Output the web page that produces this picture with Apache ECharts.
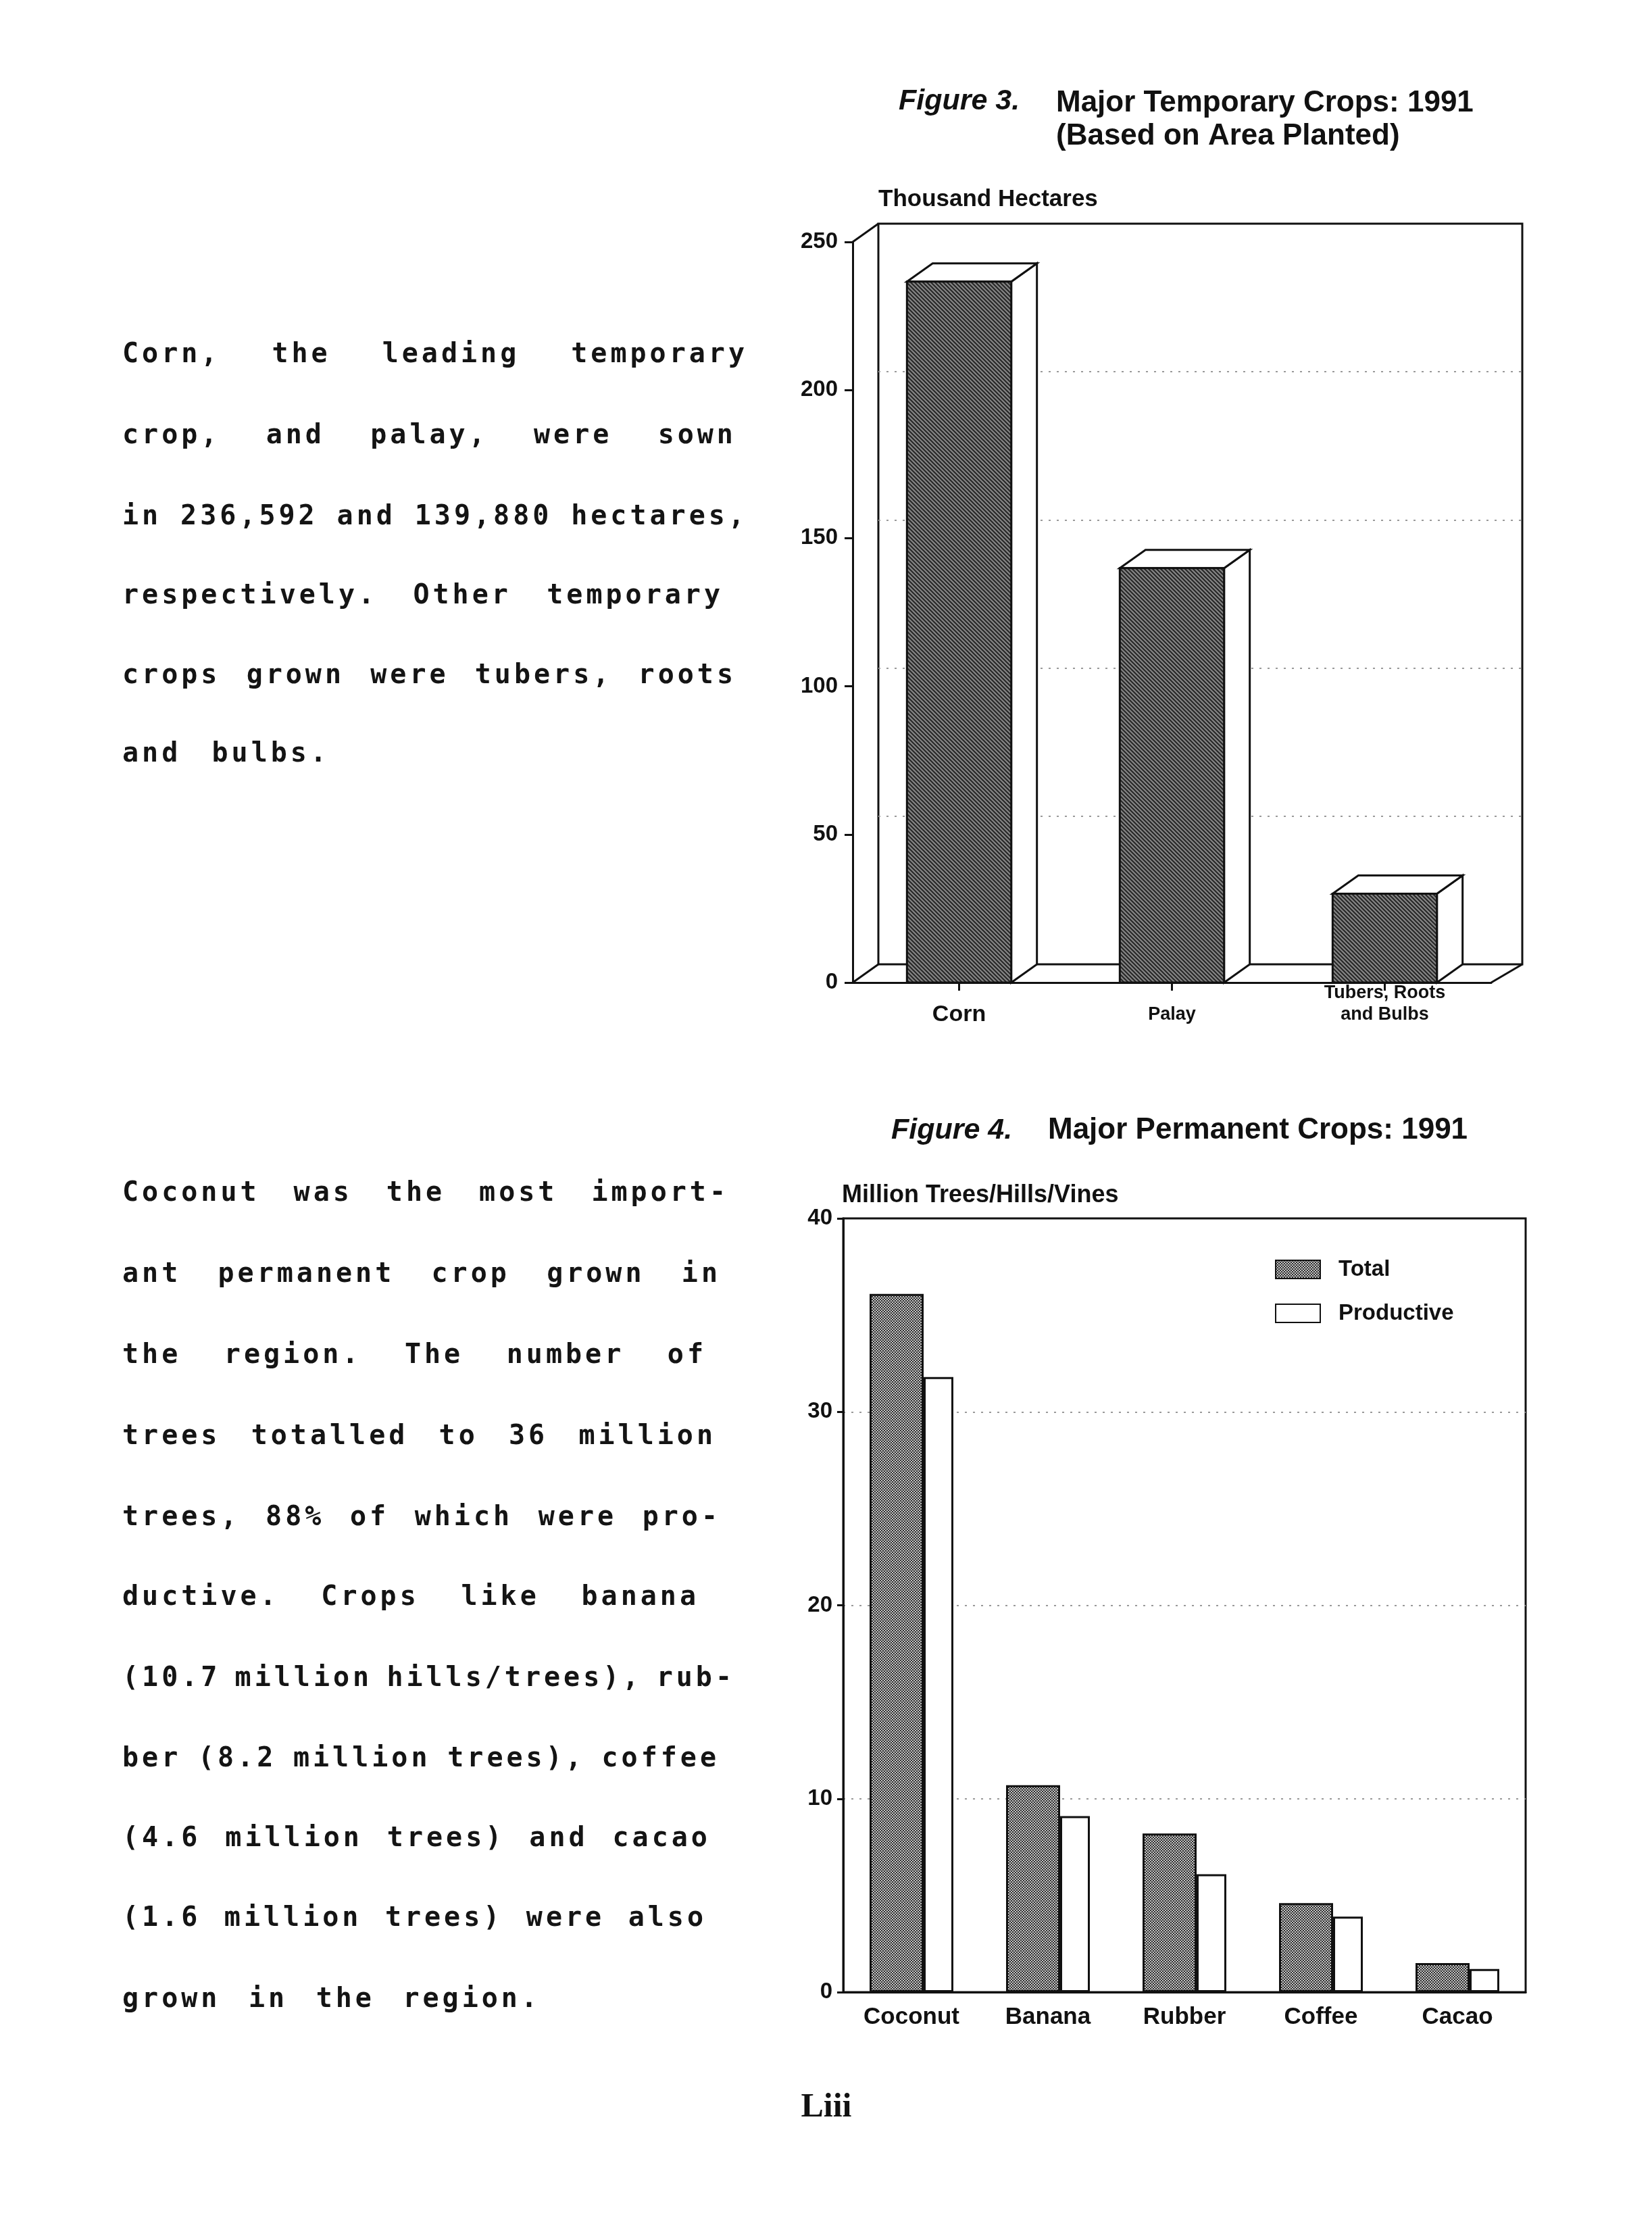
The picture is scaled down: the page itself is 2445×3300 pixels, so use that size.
<!DOCTYPE html>
<html>
<head>
<meta charset="utf-8">
<title>Major Crops: 1991</title>
<script src="https://cdn.jsdelivr.net/npm/echarts@6/dist/echarts.min.js"></script>
<style>
  html, body { margin: 0; padding: 0; background: #fff; }
  #page { position: relative; width: 2445px; height: 3300px; overflow: hidden; background: #fff; }
  #chart { position: absolute; left: 0; top: 0; width: 2445px; height: 3300px; }
  .line {
    position: absolute; display: flex; justify-content: space-between;
    font-family: 'DejaVu Sans Mono', monospace; font-size: 40px; font-weight: bold;
    color: #141414; line-height: 50px; white-space: nowrap;
  }
  .folio {
    position: absolute; left: 1173px; top: 3086px; width: 100px; text-align: center;
    font-family: 'Liberation Serif', serif; font-size: 50px; font-weight: bold; color: #111;
  }
</style>
</head>
<body>
<div id="page">
  <div id="chart"></div>
  <div class="folio">Liii</div>
</div>
<script>
  // Figure 3 - thousand hectares
  var fig3Cats = ['Corn', 'Palay', 'Tubers, Roots\nand Bulbs']
  var fig3Area = [236.6, 139.9, 30]
  var fig3Max = 250
  var fig3Step = 50

  // Figure 4 - million trees/hills/vines
  var fig4Cats = ['Coconut', 'Banana', 'Rubber', 'Coffee', 'Cacao']
  var fig4Total = [36.1, 10.7, 8.2, 4.6, 1.5]
  var fig4Productive = [31.8, 9.1, 6.1, 3.9, 1.2]
  var fig4Max = 40
  var fig4Step = 10

  var para1 = [
    'Corn, the leading temporary',
    'crop, and palay, were sown',
    'in 236,592 and 139,880 hectares,',
    'respectively. Other temporary',
    'crops grown were tubers, roots',
    'and bulbs.'
  ]
  var para2 = [
    'Coconut was the most import-',
    'ant permanent crop grown in',
    'the region. The number of',
    'trees totalled to 36 million',
    'trees, 88% of which were pro-',
    'ductive. Crops like banana',
    '(10.7 million hills/trees), rub-',
    'ber (8.2 million trees), coffee',
    '(4.6 million trees) and cacao',
    '(1.6 million trees) were also',
    'grown in the region.'
  ]

  // page layout (pixels)
  var para1Top = [522, 642, 762, 879, 997, 1113]
  var para1Right = [1107, 1090, 1107, 1071, 1090, 488]
  var para2Top = [1763, 1883, 2003, 2123, 2243, 2361, 2481, 2600, 2718, 2836, 2956]
  var para2Right = [1079, 1067, 1046, 1060, 1067, 1035, 1088, 1065, 1052, 1046, 800]
  var textLeft = 181
  var letterGap = 5

  var F3 = {left: 1262, top: 358, width: 945, height: 1096}
  var DX = 38, DY = 27
  var F3B = {left: F3.left + DX, top: F3.top - DY, width: 953, height: F3.height}
  var F4 = {left: 1248, top: 1803, width: 1010, height: 1145}

  var INK = '#111'
  var FONT = '"Liberation Sans", Arial, sans-serif'

  function addLines (lines, tops, rights){
    var page = document.getElementById('page')
    for(var i = 0; i < lines.length; i++){
      var width = rights[i] - textLeft
      var d = document.createElement('div')
      d.className = 'line'
      d.style.left = textLeft + 'px'
      d.style.top = (tops[i] - 25) + 'px'
      d.style.width = width + 'px'
      d.style.letterSpacing = letterGap + 'px'
      var words = lines[i].split(' ')
      words.forEach(function (w){
        var s = document.createElement('span')
        s.textContent = w
        d.appendChild(s)
      })
      page.appendChild(d)
      // squeeze letter spacing when a line would not fit with word gaps
      var used = 0
      for(var k = 0; k < d.children.length; k++) used += d.children[k].getBoundingClientRect().width
      var room = width - (words.length - 1) * 18
      if(used > room){
        var chars = lines[i].replace(/ /g, '').length
        d.style.letterSpacing = Math.max(0, letterGap - (used - room) / chars) + 'px'
      }
    }
  }
  addLines(para1, para1Top, para1Right)
  addLines(para2, para2Top, para2Right)

  // textures for the shaded bars
  function hatch (){
    var c = document.createElement('canvas')
    c.width = c.height = 6
    var g = c.getContext('2d')
    g.fillStyle = '#858585'
    g.fillRect(0, 0, 6, 6)
    g.strokeStyle = '#262626'
    g.lineWidth = 2
    g.beginPath()
    g.moveTo(-1, -1); g.lineTo(7, 7)
    g.moveTo(-1, 5); g.lineTo(1, 7)
    g.moveTo(5, -1); g.lineTo(7, 1)
    g.stroke()
    return c
  }
  function checker (){
    var c = document.createElement('canvas')
    c.width = c.height = 4
    var g = c.getContext('2d')
    g.fillStyle = '#c4c4c4'
    g.fillRect(0, 0, 4, 4)
    g.fillStyle = '#2e2e2e'
    g.fillRect(0, 0, 2, 2)
    g.fillRect(2, 2, 2, 2)
    return c
  }
  var hatchFill = {image: hatch(), repeat: 'repeat'}
  var checkFill = {image: checker(), repeat: 'repeat'}

  function bar3d (params, api){
    var top = api.coord([api.value(0), api.value(1)])
    var base = api.coord([api.value(0), 0])
    var w = api.size([1, 0])[0] * 0.49
    var x0 = top[0] - w / 2, x1 = top[0] + w / 2
    var face = {fill: '#fff', stroke: INK, lineWidth: 3}
    return {
      type: 'group',
      children: [
        {type: 'polygon', shape: {points: [[x1, top[1]], [x1 + DX, top[1] - DY], [x1 + DX, base[1] - DY], [x1, base[1]]]}, style: face},
        {type: 'polygon', shape: {points: [[x0, top[1]], [x0 + DX, top[1] - DY], [x1 + DX, top[1] - DY], [x1, top[1]]]}, style: face},
        {type: 'rect', shape: {x: x0, y: top[1], width: w, height: base[1] - top[1]}, style: {fill: hatchFill, stroke: INK, lineWidth: 3}},
      ],
    }
  }

  function txt (text, x, y, size, italic){
    return {
      type: 'text', x: x, y: y, z: 10,
      style: {
        text: text, fill: INK, verticalAlign: 'middle',
        font: (italic ? 'italic ' : '') + 'bold ' + size + 'px ' + FONT,
      },
    }
  }
  function seg (x1, y1, x2, y2){
    return {type: 'line', z: 1, shape: {x1: x1, y1: y1, x2: x2, y2: y2}, style: {stroke: INK, lineWidth: 3}}
  }

  var dotted = {show: true, showMinLine: false, showMaxLine: false, lineStyle: {color: '#9a9a9a', width: 2, type: [3, 9]}}
  var tickFont = {color: INK, fontSize: 33, fontWeight: 'bold', fontFamily: FONT}

  var chart = echarts.init(document.getElementById('chart'), null, {renderer: 'canvas'})
  var option = {
    animation: false,
    backgroundColor: '#fff',
    textStyle: {fontFamily: FONT},
    grid: [
      {left: F3.left, top: F3.top, width: F3.width, height: F3.height},
      {left: F3B.left, top: F3B.top, width: F3B.width, height: F3B.height, show: true, borderColor: INK, borderWidth: 3, backgroundColor: 'transparent'},
      {left: F4.left, top: F4.top, width: F4.width, height: F4.height, show: true, borderColor: INK, borderWidth: 3, backgroundColor: 'transparent'},
    ],
    xAxis: [
      {
        type: 'category', gridIndex: 0, data: fig3Cats,
        axisLine: {show: true, lineStyle: {color: INK, width: 3}},
        axisTick: {show: true, alignWithLabel: true, length: 12, lineStyle: {color: INK, width: 3}},
        axisLabel: {
          margin: 64, verticalAlign: 'bottom', lineHeight: 32, color: INK, interval: 0,
          formatter: function (v){ return v === 'Corn' ? '{big|' + v + '}' : v.split('\n').map(function (s){ return '{small|' + s + '}' }).join('\n') },
          rich: {
            big: {fontSize: 34, fontWeight: 'bold', color: INK, fontFamily: FONT},
            small: {fontSize: 27, fontWeight: 'bold', color: INK, fontFamily: FONT, lineHeight: 32},
          },
        },
      },
      {type: 'category', gridIndex: 1, data: fig3Cats, show: false},
      {
        type: 'category', gridIndex: 2, data: fig4Cats,
        axisLine: {show: true, lineStyle: {color: INK, width: 3}},
        axisTick: {show: false},
        axisLabel: Object.assign({margin: 20, interval: 0}, tickFont, {fontSize: 35}),
      },
    ],
    yAxis: [
      {
        type: 'value', gridIndex: 0, min: 0, max: fig3Max, interval: fig3Step,
        axisLine: {show: true, lineStyle: {color: INK, width: 3}},
        axisTick: {show: true, length: 12, lineStyle: {color: INK, width: 3}},
        axisLabel: Object.assign({margin: 22}, tickFont),
        splitLine: {show: false},
      },
      {
        type: 'value', gridIndex: 1, min: 0, max: fig3Max, interval: fig3Step,
        axisLine: {show: false}, axisTick: {show: false}, axisLabel: {show: false},
        splitLine: dotted,
      },
      {
        type: 'value', gridIndex: 2, min: 0, max: fig4Max, interval: fig4Step,
        axisLine: {show: true, lineStyle: {color: INK, width: 3}},
        axisTick: {show: true, length: 9, lineStyle: {color: INK, width: 3}},
        axisLabel: Object.assign({margin: 16}, tickFont),
        splitLine: dotted,
      },
    ],
    legend: {
      data: ['Total', 'Productive'],
      orient: 'vertical', left: 1887, top: 1862, padding: 0,
      icon: 'rect', itemWidth: 66, itemHeight: 27, itemGap: 32,
      textStyle: {color: INK, fontSize: 33, fontWeight: 'bold', fontFamily: FONT, padding: [0, 0, 0, 22]},
    },
    series: [
      {
        type: 'custom', xAxisIndex: 0, yAxisIndex: 0, z: 5,
        renderItem: bar3d,
        data: fig3Area.map(function (v, i){ return [fig3Cats[i], v] }),
      },
      {
        name: 'Total', type: 'bar', xAxisIndex: 2, yAxisIndex: 2,
        barWidth: 80, barGap: '0%',
        itemStyle: {color: checkFill, borderColor: INK, borderWidth: 3},
        data: fig4Total,
      },
      {
        name: 'Productive', type: 'bar', xAxisIndex: 2, yAxisIndex: 2,
        barWidth: 44, barGap: '0%',
        itemStyle: {color: '#fff', borderColor: INK, borderWidth: 3},
        data: fig4Productive,
      },
    ],
    graphic: [
      txt('Figure 3.', 1330, 150, 43, true),
      txt('Major Temporary Crops: 1991', 1563, 153, 44),
      txt('(Based on Area Planted)', 1563, 202, 44),
      txt('Thousand Hectares', 1300, 295, 35),
      txt('Figure 4.', 1319, 1673, 43, true),
      txt('Major Permanent Crops: 1991', 1551, 1673, 44),
      txt('Million Trees/Hills/Vines', 1246, 1769, 36),
      // depth edges of the 3D box
      seg(F3.left, F3.top, F3B.left, F3B.top),
      seg(F3.left, F3.top + F3.height, F3B.left, F3B.top + F3B.height),
      seg(F3.left + F3.width, F3.top + F3.height, F3B.left + F3B.width, F3B.top + F3B.height),
    ],
  }
  chart.setOption(option)
</script>
</body>
</html>
